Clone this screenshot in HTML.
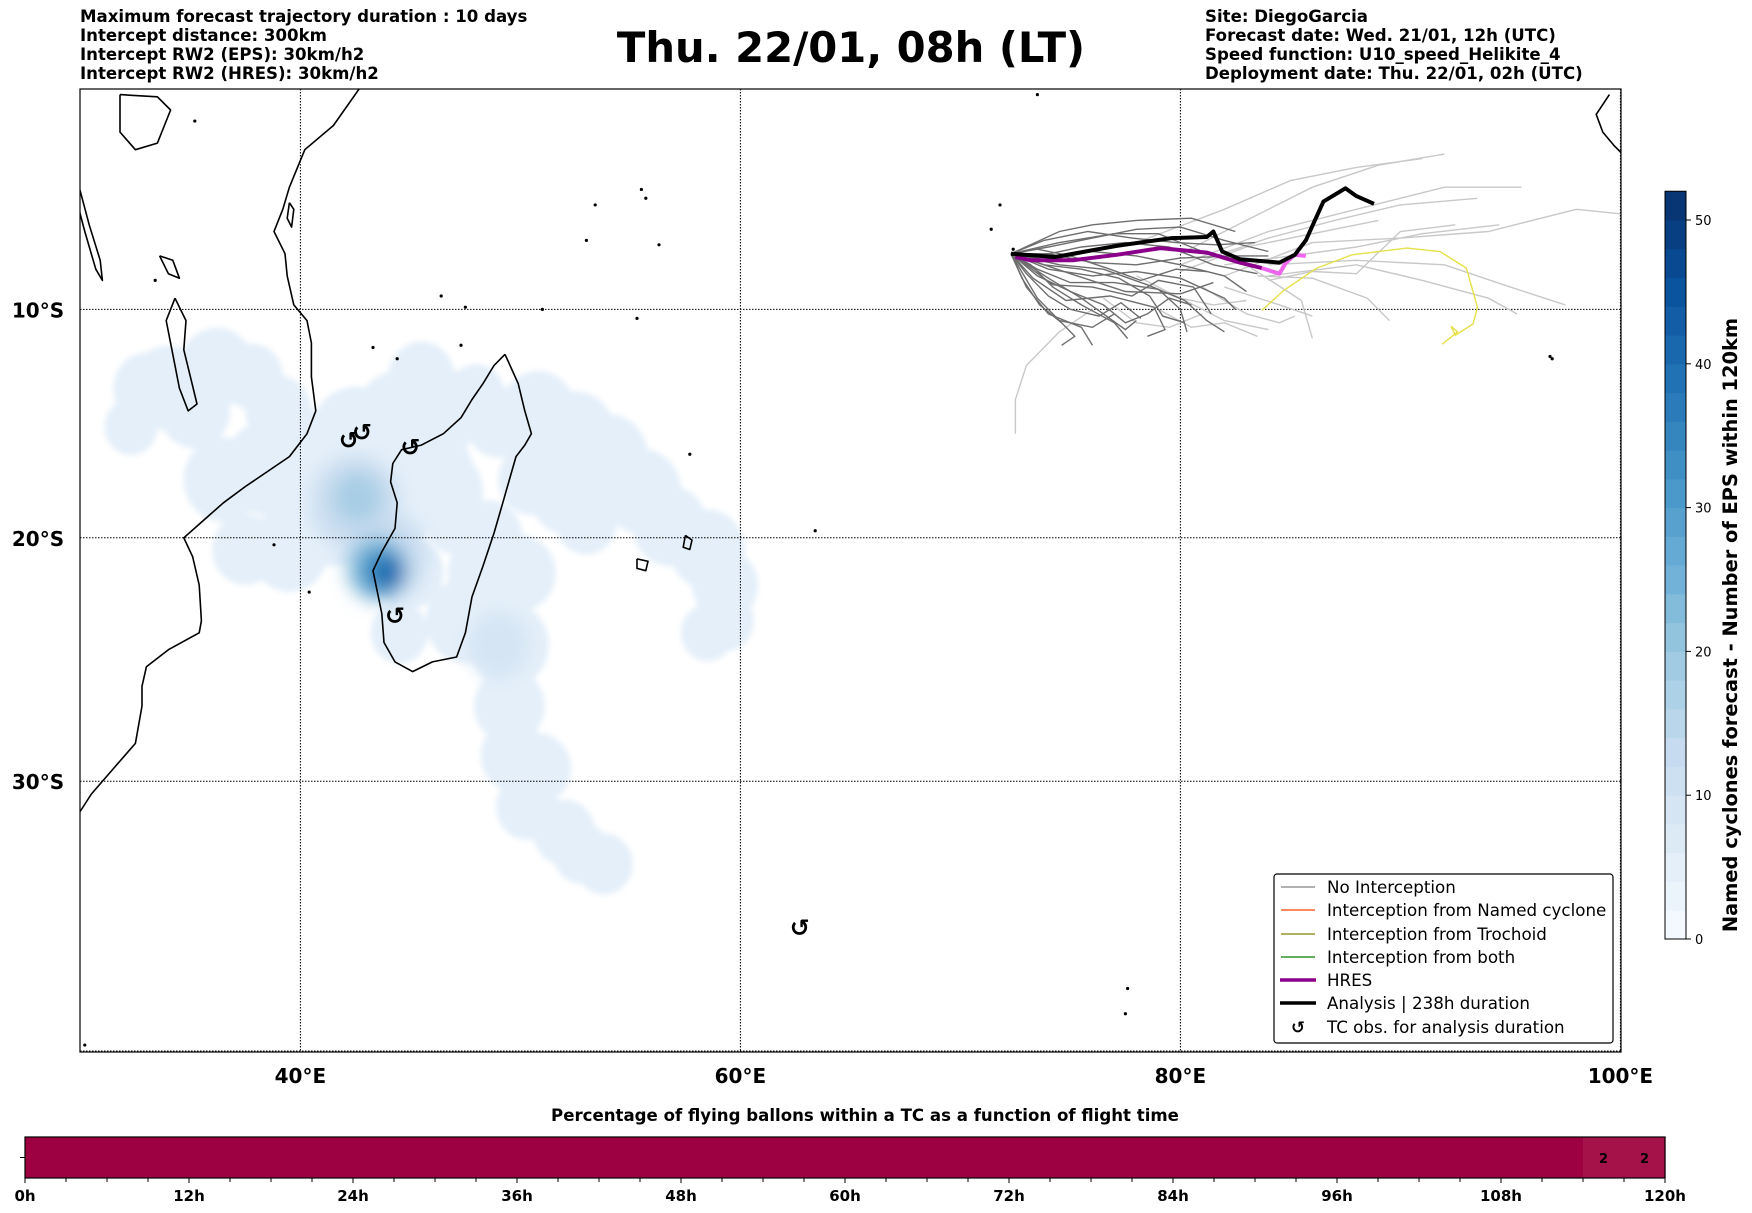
<!DOCTYPE html>
<html><head><meta charset="utf-8">
<style>
html,body{margin:0;padding:0;background:#fff;}
svg{display:block;font-family:"DejaVu Sans","Liberation Sans",sans-serif;}
.hd{font-size:16.6px;font-weight:bold;fill:#000;}
</style></head>
<body>
<svg id="fig" width="1752" height="1213" viewBox="0 0 1752 1213" xmlns="http://www.w3.org/2000/svg">
<defs>
<clipPath id="mapclip"><rect x="80" y="89" width="1541" height="963"/></clipPath>
<filter id="blur6" x="-20%" y="-20%" width="140%" height="140%"><feGaussianBlur stdDeviation="9"/></filter>
<filter id="blur2"><feGaussianBlur stdDeviation="3"/></filter>
</defs>
<g>
<text class="hd" x="80" y="22">Maximum forecast trajectory duration : 10 days</text>
<text class="hd" x="80" y="41">Intercept distance: 300km</text>
<text class="hd" x="80" y="60">Intercept RW2 (EPS):  30km/h2</text>
<text class="hd" x="80" y="79">Intercept RW2 (HRES): 30km/h2</text>
</g>
<text x="851" y="62" text-anchor="middle" font-size="41.7" font-weight="bold">Thu. 22/01, 08h (LT)</text>
<g>
<text class="hd" x="1205" y="22">Site: DiegoGarcia</text>
<text class="hd" x="1205" y="41">Forecast date: Wed. 21/01, 12h (UTC)</text>
<text class="hd" x="1205" y="60">Speed function: U10_speed_Helikite_4</text>
<text class="hd" x="1205" y="79">Deployment date: Thu. 22/01, 02h (UTC)</text>
</g>
<g id="map" clip-path="url(#mapclip)">
<g id="density"></g>
<g id="grid"></g>
<g id="coast"></g>
<g id="traj"></g>
<g id="tc"></g>
</g>
<rect x="80" y="89" width="1541" height="963" fill="none" stroke="#000" stroke-width="1.2"/>
<g id="axlabels"></g>
<g font-size="16.7">
<rect x="1274" y="874" width="339" height="169" rx="3" fill="#fff" stroke="#000" stroke-width="1.2"/>
<line x1="1281" y1="887" x2="1315" y2="887" stroke="#808080" stroke-width="1.2"/>
<text x="1327" y="893">No Interception</text>
<line x1="1281" y1="910" x2="1315" y2="910" stroke="#ff4500" stroke-width="1.2"/>
<text x="1327" y="916">Interception from Named cyclone</text>
<line x1="1281" y1="934" x2="1315" y2="934" stroke="#808000" stroke-width="1.2"/>
<text x="1327" y="940">Interception from Trochoid</text>
<line x1="1281" y1="957" x2="1315" y2="957" stroke="#008000" stroke-width="1.2"/>
<text x="1327" y="963">Interception from both</text>
<line x1="1280" y1="980" x2="1316" y2="980" stroke="#8b008b" stroke-width="3.5"/>
<text x="1327" y="986">HRES</text>
<line x1="1280" y1="1003" x2="1316" y2="1003" stroke="#000" stroke-width="3.5"/>
<text x="1327" y="1009">Analysis | 238h duration</text>
<text x="1298" y="1033" font-weight="bold" text-anchor="middle">↺</text>
<text x="1327" y="1033">TC obs. for analysis duration</text>
</g>
<g id="cbar"></g>
<text transform="translate(1737,625) rotate(-90)" text-anchor="middle" font-size="19.4" font-weight="bold">Named cyclones forecast - Number of EPS within 120km</text>
<text x="865" y="1121" text-anchor="middle" font-size="16.6" font-weight="bold">Percentage of flying ballons within a TC as a function of flight time</text>
<g id="tbar"></g>
</svg>
<script>
// ---------- data ----------
const lonTicks = [40, 60, 80, 100];
const latTicks = [10, 20, 30];
const cbarTicks = [0, 10, 20, 30, 40, 50];
const cbarMax = 52;
// density blobs: lon, lat(S), radius(deg), value (EPS count)
const blobLon = [32.3,34,36.2,37.8,36.5,38.5,40.5,42.5,44.5,46.5,48,37.5,39.5,41.5,44,46.5,47,50.8,52.5,54,55.5,56.8,58.5,59.3,59.3,58.5,50.5,52,44.5,47.5,48.5,49.5,49.5,49.7,50.3,52,53.8,45,35.2,33,39,45.5,49,51.5,53,42,46,48.5,50,50.8,52.8,42.5,44,49,42.6,43.5,43.7,44];
const blobLat = [15.2,13.5,12.6,13,17.5,17,16.5,15.5,14.8,14.5,13.8,20.5,20.5,19,18.5,18,19.5,14.5,15.5,16.5,18,19.5,20.5,22,23.5,24,17.5,18.3,24,23.5,21.5,24.5,27,29,31,32,33.2,21.5,14.5,13.5,14.5,13,15,16.8,19.3,17,17,20,21.5,29.5,32.8,18.5,20.8,24.5,18.3,21.3,21.4,21.5];
const blobR = [1.2,1.8,1.7,1.4,1.8,2,2,2,2,1.8,1.3,1.5,1.8,2.2,2.2,1.8,1.2,1.7,1.8,1.8,1.8,1.7,1.7,1.5,1.3,1.2,1.5,1.5,1.3,1.8,1.8,1.8,1.6,1.5,1.4,1.4,1.3,1.5,1.6,1.5,1.5,1.5,1.5,1.5,1.4,2,1.8,1.6,1.6,1.5,1.3,2.0,1.8,1.4,1.1,1.4,1.0,0.7];
const blobVal = [5,5,5,5,5,5,5,5,5,5,5,5,5,5,5,5,5,5,5,5,5,5,5,5,5,5,5,5,5,5,5,5,5,5,5,5,5,5,5,5,5,5,5,5,5,5,5,5,5,5,5,12,12,9,18,22,32,40];
// analysis track (lon, lat S)
const anaLon = [72.3,74.3,77.1,79.6,81.2,81.5,81.9,82.7,84.5,85.2,85.7,86.5,87.5,88.0,88.8];
const anaLat = [7.5,7.65,7.15,6.8,6.75,6.5,7.4,7.75,7.9,7.55,6.9,5.15,4.55,4.9,5.25];
const hresLon = [72.5,73.2,75.1,77.1,79.1,81.2,82.7,83.7];
const hresLat = [7.65,7.8,7.8,7.55,7.25,7.45,7.9,8.15];
const hres2Lon = [83.7,84.5,84.8,85.2,85.7];
const hres2Lat = [8.15,8.4,7.9,7.55,7.6];
const yelLon = [83.7,84.7,86.2,87.8,90.3,91.8,93,93.5,93.3,92.5,92.3,92.6,91.9];
const yelLat = [10.05,9.15,8.15,7.55,7.25,7.4,8.15,9.9,10.65,11.15,10.75,11.0,11.55];
const darkTracks = [
 [[72.3,7.5],[74,7.2],[76,6.8],[78,6.4],[80,6.3],[82,6.9],[84,7.4]],
 [[72.3,7.5],[73.5,8.5],[75,9.2],[76.5,9.8],[77.5,10.6],[78.5,10.2],[79.5,9.5],[80.5,9.8]],
 [[72.3,7.5],[74,8.6],[75.5,9.5],[76.5,10.2],[77.5,10.9],[78,10.5]],
 [[72.3,7.5],[74,7.8],[76,7.4],[78,7.6],[80,8.0],[82,8.5],[83,9.2]],
 [[72.3,7.5],[73.5,8.2],[75,8.8],[77,8.8],[79,9.1],[80,10.0],[80.3,11]],
 [[72.3,7.5],[73,9],[74,10.2],[75.5,10.8],[76,11.6]],
 [[72.3,7.5],[74.5,7.0],[77,6.6],[79,6.6],[81,7.4],[83,7.9]],
 [[72.3,7.5],[74,8.2],[76,8.5],[78,8.3],[80,8.6],[82,9.5],[82.5,10]],
 [[72.3,7.5],[73.3,8.6],[74.8,9.6],[76.8,9.4],[78.8,9.9],[79.3,10.9],[78.5,11.2]],
 [[72.3,7.5],[74,7.5],[76,7.9],[78,8.0],[80,7.7],[82.5,7.6],[84,7.6]],
 [[72.3,7.5],[73.2,8.0],[74.2,9.0],[75.5,9.8],[77,10.6],[77.6,11.3]],
 [[72.3,7.5],[74.5,6.5],[76,6.2],[78,6.0],[80.5,5.9],[82.5,6.5]],
 [[72.3,7.5],[73.5,9.5],[74.5,10.5],[76,10.8],[77,10.2]],
 [[72.3,7.5],[75,8.4],[77.5,9.2],[80,9.3],[81.5,8.8]],
 [[72.3,7.5],[73.8,8.0],[75.5,8.2],[77.2,8.6],[78.6,9.4],[79.2,10.3],[80.2,10.6]],
 [[72.3,7.5],[73.6,7.6],[75.5,7.2],[77.5,7.0],[79.5,7.2],[81.5,8.0],[83.5,8.4]],
 [[72.3,7.5],[73,8.4],[74,9.4],[75,10.0],[76.3,10.3],[77.3,9.7],[78.2,10.4]],
 [[72.3,7.5],[74.2,8.9],[76,9.0],[77.8,9.4],[79,8.7],[80.6,9.0],[81.4,10.2]],
 [[72.3,7.5],[73.8,6.9],[75.8,6.5],[77.8,6.8],[79.8,7.0],[81.6,7.1],[83.4,7.0]],
 [[72.3,7.5],[72.8,8.6],[73.6,9.8],[74.6,10.6],[75.2,11.2],[74.6,11.6]],
 [[72.3,7.5],[74.5,8.0],[76.5,8.2],[78.5,8.9],[80.2,9.6],[81.2,10.5],[82.0,11.0]],
 [[72.3,7.5],[73.5,7.3],[75,7.6],[76.8,8.2],[78.2,8.7],[79.8,8.2],[81.2,8.3]]
];
const lightTracks = [
 [[80,7.5],[83,6],[86,4.5],[89,3.5],[92,3.0]],
 [[78,7],[82,5.5],[85,4.2],[88,3.6],[91,3.2]],
 [[80,8],[84,6.5],[88,5.5],[92,4.5],[95.5,4.5]],
 [[82,8.5],[86,7],[90,6.8],[94,6.5],[98,5.5],[100,5.7]],
 [[84,8],[88,7.8],[92,8],[95,9],[97.5,9.8]],
 [[84,8.5],[88,8],[91,8.7],[94,9.5],[95.3,10.2]],
 [[76,10],[74.5,11],[73,12.5],[72.5,14],[72.5,15.5]],
 [[82,9],[84.5,9.8],[86,10.3]],
 [[80,9.5],[82,10.5],[84,10.9]],
 [[84,8.7],[86,8.3],[88,8.4],[90,6.5],[92.5,6.2]],
 [[80,8.3],[83,7.2],[86,6.6],[89,6.0]],
 [[83,8],[85.5,9.6],[86,11.3]],
 [[78,8.5],[80,9.5],[81.5,9.8],[83,9.6]],
 [[81,9],[83,10.2],[84.5,10.6],[85.2,10.3]],
 [[81,7.8],[84,6.8],[87,6.0],[90,5.3],[93.5,5.0]],
 [[82,8],[85,7.6],[88,7.2],[91,6.6],[94.5,6.2]],
 [[79,10],[80.5,10.8],[82,10.6],[83.5,11.2]],
 [[83.5,8.5],[86,8.6],[88.5,9.5],[89.5,10.5]],
 [[76.5,9.5],[78,10.6],[79.5,10.8],[81,10.2]]
];
const tcLon = [42.2,42.8,45.0,44.3,62.7];
const tcLat = [15.8,15.45,16.1,23.3,35.6];
const coastLines = [
 [[42.7,0],[41.5,1.7],[40.2,2.8],[39.5,4.5],[39.2,5.5],[38.8,6.5],[39.3,7.5],[39.4,8.5],[39.7,9.8],[40.3,10.5],[40.5,11.5],[40.5,13],[40.7,14.5],[40.3,15.5],[39.5,16.5],[37.5,17.8],[36.5,18.5],[35.3,19.5],[34.7,20],[35.1,20.8],[35.4,22],[35.5,23.5],[35.4,24],[34,24.7],[33,25.4],[32.8,26.2],[32.8,27],[32.5,28.5],[31.5,29.5],[30.5,30.5],[29.9,31.3]],
 [[49.3,12],[49.9,13.3],[50.2,14.5],[50.5,15.5],[50.2,16],[49.8,16.5],[49.5,17.5],[49.2,18.5],[48.8,19.8],[48.3,21.2],[47.8,22.5],[47.5,24],[47.1,25],[46,25.2],[45.1,25.6],[44.3,25.2],[43.8,24.4],[43.7,23.2],[43.5,22.3],[43.3,21.4],[43.7,20.6],[44.3,19.6],[44.4,18.5],[44.1,17.6],[44.2,16.8],[44.6,16.2],[45.5,16],[46.5,15.5],[47.3,14.8],[47.8,14],[48.3,13.3],[48.8,12.5],[49.3,12]],
 [[34.3,9.5],[34.8,10.5],[34.7,11.8],[35,13],[35.3,14.2],[34.9,14.5],[34.5,13.5],[34.2,12],[33.9,10.5],[34.3,9.5]],
 [[29.5,3.3],[29.8,5],[30.2,6.5],[30.7,8.2],[31,8.7],[30.9,7.8],[30.4,6.2],[30,4.7],[29.5,3.3]],
 [[31.8,0.3],[33.5,0.4],[34.1,1],[33.5,2.5],[32.5,2.8],[31.8,2],[31.8,0.3]],
 [[33.6,7.6],[34.2,7.8],[34.5,8.6],[34.0,8.4],[33.6,7.6]],
 [[99.5,0.3],[98.9,1.2],[99.2,2.0],[99.7,2.6],[100,2.9]],
 [[55.3,20.9],[55.8,21.0],[55.7,21.4],[55.3,21.3],[55.3,20.9]],
 [[57.5,19.9],[57.8,20.1],[57.7,20.5],[57.4,20.4],[57.5,19.9]],
 [[39.5,5.2],[39.7,5.5],[39.6,6.3],[39.4,5.9],[39.5,5.2]]
];
const islandDots = [[72.4,7.3],[71.8,5.3],[71.4,6.4],[55.5,4.6],[55.7,5.0],[53.4,5.3],[53.0,6.9],[56.3,7.1],[46.4,9.4],[47.5,9.9],[51.0,10.0],[55.3,10.4],[43.3,11.7],[44.4,12.2],[57.7,16.4],[63.4,19.7],[40.4,22.3],[47.3,11.6],[96.8,12.1],[96.9,12.2],[77.6,37.8],[77.5,38.7],[30.2,39.8],[73.5,0.3],[38.8,20.3],[35.2,1.5],[33.4,8.7]];
// time bar: percentage per 3h bin
const tbBins = [0,0,0,0,0,0,0,0,0,0,0,0,0,0,0,0,0,0,0,0,0,0,0,0,0,0,0,0,0,0,0,0,0,0,0,0,0,0,2,2];
const tbTickLabels = ["0h","12h","24h","36h","48h","60h","72h","84h","96h","108h","120h"];

// ---------- scales ----------
const NS = "http://www.w3.org/2000/svg";
const X0 = 80.4, PXDEG = 22.0, Y10 = 309.4, MSC = 1262;
const merc = l => Math.log(Math.tan(Math.PI/4 + l*Math.PI/360));
const px = lon => X0 + (lon - 30) * PXDEG;
const py = lat => Y10 + (merc(lat) - merc(10)) * MSC;
function mk(tag, attrs, parent){ const e = document.createElementNS(NS, tag); for (const k in attrs) e.setAttribute(k, attrs[k]); parent.appendChild(e); return e; }
const stops = [[0,[247,251,255]],[0.125,[222,235,247]],[0.25,[198,219,239]],[0.375,[158,202,225]],[0.5,[107,174,214]],[0.625,[66,146,198]],[0.75,[33,113,181]],[0.875,[8,81,156]],[1,[8,48,107]]];
function blues(t){ t=Math.max(0,Math.min(1,t)); for(let i=1;i<stops.length;i++){ if(t<=stops[i][0]){ const a=stops[i-1],b=stops[i],f=(t-a[0])/(b[0]-a[0]); return 'rgb('+a[1].map((c,j)=>Math.round(c+(b[1][j]-c)*f)).join(',')+')'; } } return 'rgb(8,48,107)'; }
function pathOf(pts){ return pts.map((p,i)=>(i?'L':'M')+px(p[0]).toFixed(1)+' '+py(p[1]).toFixed(1)).join(' '); }
function zipPts(a,b){ return a.map((v,i)=>[v,b[i]]); }

// density
const dens = document.getElementById('density');
const baseG = mk('g', {filter:'url(#blur2)'}, dens);
const hiG = mk('g', {filter:'url(#blur6)'}, dens);
for (let i=0;i<blobLon.length;i++){
  const r = blobR[i]*PXDEG;
  const c = mk('ellipse', {cx:px(blobLon[i]), cy:py(blobLat[i]), rx:r, ry:r*1.07, fill:blues(blobVal[i]/cbarMax)}, blobVal[i] > 6 ? hiG : baseG);
  
  
}

// grid
const grid = document.getElementById('grid');
lonTicks.forEach(l=>{ const ln = mk('line',{x1:px(l),x2:px(l),y1:89,y2:1052,stroke:'#000','stroke-width':1,'stroke-dasharray':'1.5,1.5'},grid);
    });
latTicks.forEach(l=>{ const ln = mk('line',{x1:80,x2:1621,y1:py(l),y2:py(l),stroke:'#000','stroke-width':1,'stroke-dasharray':'1.5,1.5'},grid);
    });
mk('line',{x1:80,x2:1621,y1:1051,y2:1051,stroke:'#000','stroke-width':1,'stroke-dasharray':'1.5,1.5'},grid);

// coast
const coast = document.getElementById('coast');
coastLines.forEach(c=>{ const p = mk('path',{d:pathOf(c),fill:'none',stroke:'#000','stroke-width':1.6,'stroke-linejoin':'round'},coast);
    });
islandDots.forEach(d=>{ const e = mk('circle',{cx:px(d[0]),cy:py(d[1]),r:1.6,fill:'#000'},coast);
    });

// trajectories
const traj = document.getElementById('traj');
lightTracks.forEach(t=>{ const p = mk('path',{d:pathOf(t),fill:'none',stroke:'#c8c8c8','stroke-width':1.4},traj);
    });
darkTracks.forEach(t=>{ const p = mk('path',{d:pathOf(t),fill:'none',stroke:'#6e6e6e','stroke-width':1.4},traj);
    });
let e;
e = mk('path',{d:pathOf(zipPts(yelLon,yelLat)),fill:'none',stroke:'#e6e04a','stroke-width':1.4},traj);
 
e = mk('path',{d:pathOf(zipPts(hresLon,hresLat)),fill:'none',stroke:'#8b008b','stroke-width':4,'stroke-linejoin':'round'},traj);
 
e = mk('path',{d:pathOf(zipPts(hres2Lon,hres2Lat)),fill:'none',stroke:'#ee66ee','stroke-width':4,'stroke-linejoin':'round'},traj);
 
e = mk('path',{d:pathOf(zipPts(anaLon,anaLat)),fill:'none',stroke:'#000','stroke-width':4,'stroke-linejoin':'round'},traj);
 

// TC obs
const tc = document.getElementById('tc');
tcLon.forEach((l,i)=>{ const t = mk('text',{x:px(l),y:py(tcLat[i])+8,'font-size':24,'font-weight':'bold','text-anchor':'middle'},tc);
  t.textContent='↺';   });

// axis labels
const axl = document.getElementById('axlabels');
lonTicks.forEach(l=>{ const t = mk('text',{x:px(l),y:1083,'font-size':20,'font-weight':'bold','text-anchor':'middle'},axl);
  t.textContent=l+'°E';   });
latTicks.forEach(l=>{ const t = mk('text',{x:38,y:py(l)+8,'font-size':20,'font-weight':'bold','text-anchor':'middle'},axl);
  t.textContent=l+'°S';   });

// colorbar
const cb = document.getElementById('cbar');
const CB0 = 939, CBPX = 14.38, CBX = 1665, CBW = 21;
for (let v=0; v<cbarMax; v+=2){
  const r = mk('rect',{x:CBX,y:CB0-(v+2)*CBPX,width:CBW,height:2*CBPX+0.5,fill:blues((v+1)/cbarMax)},cb);
   
}
mk('rect',{x:CBX,y:CB0-cbarMax*CBPX,width:CBW,height:cbarMax*CBPX,fill:'none',stroke:'#000','stroke-width':1},cb);
cbarTicks.forEach(v=>{ const y = CB0 - v*CBPX;
  mk('line',{x1:CBX+CBW,x2:CBX+CBW+5,y1:y,y2:y,stroke:'#000'},cb);
  const t = mk('text',{x:CBX+CBW+9,y:y+5,'font-size':13},cb); t.textContent=v;
    });

// time bar
const tb = document.getElementById('tbar');
const TB0 = 25, TB1 = 1665, TBY = 1137, TBH = 41;
const bw = (TB1-TB0)/tbBins.length;
tbBins.forEach((v,i)=>{
  const r = mk('rect',{x:TB0+i*bw,y:TBY,width:bw+0.6,height:TBH,fill: v>0 ? '#a5124a' : '#9e0142'},tb);
   
  if (v>0){ const t = mk('text',{x:TB0+(i+0.5)*bw,y:TBY+26,'font-size':13,'font-weight':'bold','text-anchor':'middle'},tb);
    t.textContent=v;   }
});
mk('rect',{x:TB0,y:TBY,width:TB1-TB0,height:TBH,fill:'none',stroke:'#000','stroke-width':1.2},tb);
mk('line',{x1:TB0-5,x2:TB0,y1:TBY+TBH/2,y2:TBY+TBH/2,stroke:'#000'},tb);
for (let i=0;i<=tbBins.length;i++){ const x = TB0+i*bw; mk('line',{x1:x,x2:x,y1:TBY+TBH,y2:TBY+TBH+(i%4===0?5:4),stroke:'#000'},tb); }
tbTickLabels.forEach((s,i)=>{ const t = mk('text',{x:TB0+i*4*bw,y:1201,'font-size':15,'font-weight':'bold','text-anchor':'middle'},tb);
  t.textContent=s;   });
</script>
</body></html>
